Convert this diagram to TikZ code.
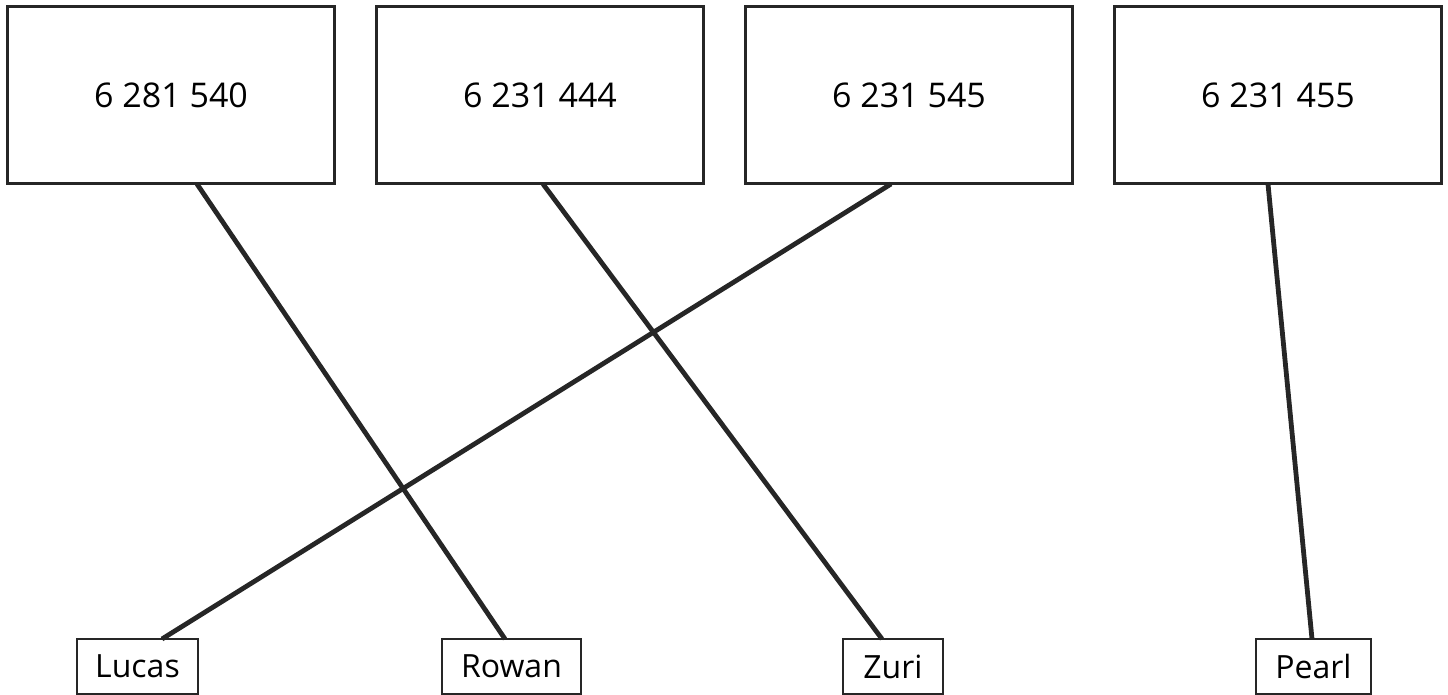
\documentclass[tikz,border=0pt]{standalone}
\usepackage{fontspec}
\setmainfont{Open Sans}
\usetikzlibrary{positioning}

\begin{document}
\begin{tikzpicture}[x=0.5pt, y=-0.5pt,
    numbox/.style={draw=black!85, line width=1.5pt, outer sep=0pt,
      minimum width=163.5pt, minimum height=88.5pt, font=\fontsize{17}{20}\selectfont},
    namebox/.style={draw=black!85, line width=1.3pt, outer sep=0pt,
      minimum height=27.5pt, inner sep=0pt, font=\fontsize{16}{19}\selectfont},
    link/.style={black!85, line width=2.4pt}]
    % Matching numbers to names

    \useasboundingbox (0,0) rectangle (1448,695);

    % Number boxes
    \node[numbox] (n1) at (171,95.5) {6 281 540};
    \node[numbox] (n2) at (540,95.5) {6 231 444};
    \node[numbox] (n3) at (909,95.5) {6 231 545};
    \node[numbox] (n4) at (1278,95.5) {6 231 455};

    % Name boxes
    \node[namebox, minimum width=60.5pt] (lucas) at (137.5,666.5) {Lucas};
    \node[namebox, minimum width=69.5pt] (rowan) at (511.5,666.5) {Rowan};
    \node[namebox, minimum width=50pt] (zuri) at (893,666.5) {Zuri};
    \node[namebox, minimum width=57.5pt] (pearl) at (1313.5,666.5) {Pearl};

    % Lines
    \draw[link] ([xshift=13pt]n1.south) -- ([xshift=-3.25pt]rowan.north);
    \draw[link] ([xshift=1.5pt]n2.south) -- ([xshift=-5.5pt]zuri.north);
    \draw[link] ([xshift=-9pt]n3.south) -- ([xshift=12.25pt]lucas.north);
    \draw[link] ([xshift=-5pt]n4.south) -- ([xshift=-0.75pt]pearl.north);
  \end{tikzpicture}
\end{document}
